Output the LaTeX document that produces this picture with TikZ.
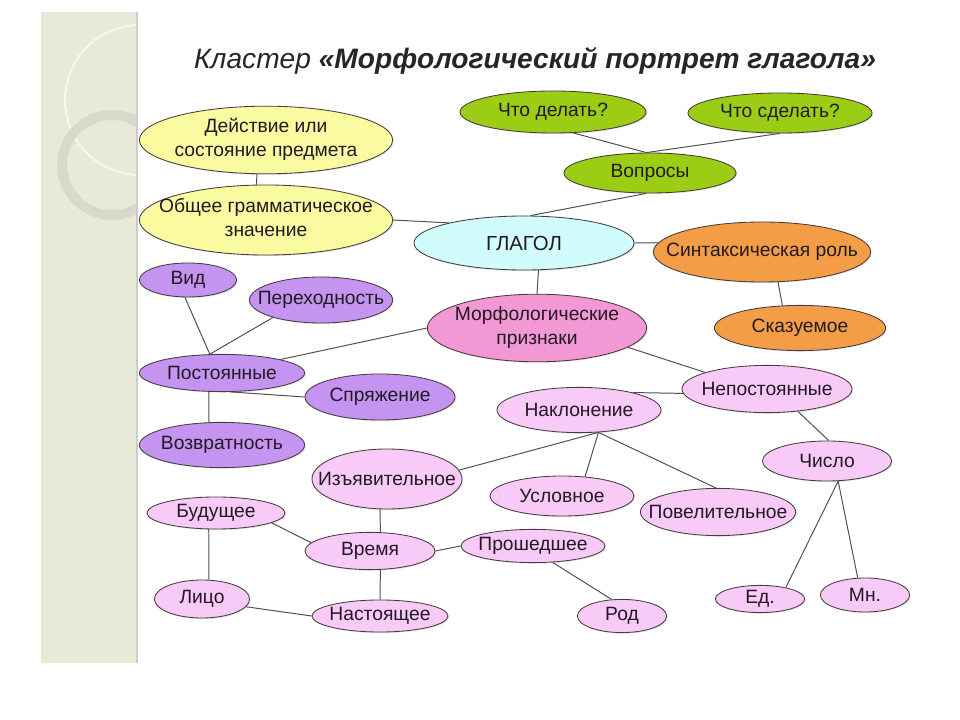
\documentclass[tikz,border=0pt]{standalone}
\usepackage{fontspec}
\setmainfont{Liberation Sans}
\usetikzlibrary{shapes.geometric,shadows}

\definecolor{streifen}{RGB}{233,233,216}
\definecolor{ring}{RGB}{216,216,205}
\definecolor{umriss}{RGB}{70,60,60}
\definecolor{linie}{RGB}{80,80,80}
\definecolor{schrift}{RGB}{35,25,35}
\definecolor{gelb}{RGB}{250,250,160}
\definecolor{gruen}{RGB}{155,205,20}
\definecolor{hellblau}{RGB}{208,252,252}
\definecolor{orange}{RGB}{243,158,70}
\definecolor{rosa}{RGB}{242,152,212}
\definecolor{lila}{RGB}{196,148,240}
\definecolor{flieder}{RGB}{248,202,248}

\newcommand{\lb}[1]{\makebox[0pt]{#1}}
\newcommand{\zwei}[2]{\makebox[0pt]{\begin{tabular}{@{}c@{}}#1\\#2\end{tabular}}}

\begin{document}
\begin{tikzpicture}[x=0.025cm, y=-0.025cm,
    oval/.style 2 args={ellipse, draw=umriss, line width=.6pt, inner sep=0pt,
        minimum width=#1cm, minimum height=#2cm, text=schrift,
        drop shadow={shadow xshift=.8pt, shadow yshift=-.8pt, opacity=.2},
        font=\fontsize{13.7}{17}\selectfont},
    verb/.style={draw=linie, line width=.7pt}]

        % Hintergrund
        \fill[white] (0,0) rectangle (960,720);
        \fill[streifen] (41,12) rectangle (137,663);
        \begin{scope}
            \clip (41,12) rectangle (137,663);
            \draw[white!60!streifen, line width=1.5pt] (140,100) circle (75);
            \draw[ring, line width=7pt] (112,165) circle (50);
        \end{scope}
        \draw[black!20, line width=1pt] (137,12) -- (137,663);

        % Titel
        \node[text=black!85, font=\fontsize{20}{24}\selectfont] (titel) at (535,61)
            {\itshape Кластер \bfseries «Морфологический портрет глагола»};

        % Bedeutung
        \node[oval={6.33}{1.65}, fill=gelb] (deyst) at (266,140) {\zwei{Действие или}{состояние предмета}};
        \node[oval={6.33}{1.75}, fill=gelb] (obsh) at (266,220) {\zwei{Общее грамматическое}{значение}};

        % Fragen
        \node[oval={4.65}{1.05}, fill=gruen] (chtodel) at (553,112) {\lb{Что делать?}};
        \node[oval={4.6}{1.0}, fill=gruen] (chtosdel) at (780,113) {\lb{Что сделать?}};
        \node[oval={4.3}{1.0}, fill=gruen] (vopr) at (650,173) {\lb{Вопросы}};

        % Zentrum
        \node[oval={5.5}{1.35}, fill=hellblau, font=\fontsize{14.5}{17}\selectfont] (glagol) at (524,243) {\lb{ГЛАГОЛ}};

        % Syntax
        \node[oval={5.43}{1.5}, fill=orange] (sint) at (762,252) {\lb{Синтаксическая роль}};
        \node[oval={4.28}{1.13}, fill=orange] (skaz) at (800,328) {\lb{Сказуемое}};

        % Morphologie
        \node[oval={5.48}{1.5}, fill=rosa] (morf) at (537,328) {\zwei{Морфологические}{признаки}};

        % konstante Merkmale
        \node[oval={2.43}{0.85}, fill=lila] (vid) at (188,280) {\lb{Вид}};
        \node[oval={3.58}{1.15}, fill=lila] (perekh) at (321,300) {\lb{Переходность}};
        \node[oval={4.13}{0.93}, fill=lila] (post) at (222,373) {\lb{Постоянные}};
        \node[oval={3.75}{1.15}, fill=lila] (spr) at (380,397) {\lb{Спряжение}};
        \node[oval={4.13}{1.13}, fill=lila] (vozvr) at (222,445) {\lb{Возвратность}};

        % veraenderliche Merkmale
        \node[oval={4.25}{1.18}, fill=flieder] (nepost) at (767,389) {\lb{Непостоянные}};
        \node[oval={4.1}{1.13}, fill=flieder] (nakl) at (579,410) {\lb{Наклонение}};
        \node[oval={3.75}{1.5}, fill=flieder] (izyav) at (387,479) {\lb{Изъявительное}};
        \node[oval={3.6}{1.0}, fill=flieder] (uslov) at (562,496) {\lb{Условное}};
        \node[oval={3.88}{1.18}, fill=flieder] (povel) at (718,512) {\lb{Повелительное}};
        \node[oval={3.45}{0.8}, fill=flieder] (bud) at (216,513) {\lb{Будущее}};
        \node[oval={3.25}{0.93}, fill=flieder] (vremya) at (370,551) {\lb{Время}};
        \node[oval={3.6}{0.83}, fill=flieder] (prosh) at (533,546) {\lb{Прошедшее}};
        \node[oval={2.38}{0.95}, fill=flieder] (lico) at (202,599) {\lb{Лицо}};
        \node[oval={3.4}{0.8}, fill=flieder] (nast) at (380,616) {\lb{Настоящее}};
        \node[oval={2.23}{0.83}, fill=flieder] (rod) at (622,616) {\lb{Род}};
        \node[oval={3.23}{1.0}, fill=flieder] (chislo) at (827,461) {\lb{Число}};
        \node[oval={2.23}{0.68}, fill=flieder] (ed) at (760,599) {\lb{Ед.}};
        \node[oval={2.23}{0.85}, fill=flieder] (mn) at (865,595) {\lb{Мн.}};

        % Verbindungen
        \draw[verb] (deyst.-105) -- (obsh.105);
        \draw[verb] (obsh.east) -- (glagol.165);
        \draw[verb] (chtodel.-46) -- (vopr.100);
        \draw[verb] (chtosdel.south) -- (vopr.100);
        \draw[verb] (vopr.-100) -- (glagol.77);
        \draw[verb] (glagol.east) -- (sint.175);
        \draw[verb] (sint.-62) -- (skaz.128);
        \draw[verb] (glagol.-62) -- (morf.north);
        \draw[verb] (morf.west) -- (post.13);
        \draw[verb] (morf.-12) -- (nepost.165);
        \draw[verb] (vid.-100) -- (post.123);
        \draw[verb] (perekh.-160) -- (post.123);
        \draw[verb] (post.-66) -- (spr.west);
        \draw[verb] (post.-125) -- (vozvr.120);
        \draw[verb] (nepost.183) -- (nakl.18);
        \draw[verb] (nepost.-36) -- (chislo.85);
        \draw[verb] (nakl.-49) -- (izyav.7);
        \draw[verb] (nakl.-49) -- (uslov.40);
        \draw[verb] (nakl.-49) -- (povel.95);
        \draw[verb] (izyav.-103) -- (vremya.61);
        \draw[verb] (vremya.172) -- (bud.-10);
        \draw[verb] (bud.-114) -- (lico.70);
        \draw[verb] (lico.-10) -- (nast.west);
        \draw[verb] (vremya.-61) -- (nast.north);
        \draw[verb] (vremya.east) -- (prosh.west);
        \draw[verb] (prosh.-40) -- (rod.122);
        \draw[verb] (chislo.-61) -- (ed.24);
        \draw[verb] (chislo.-61) -- (mn.113);

    \end{tikzpicture}
\end{document}
